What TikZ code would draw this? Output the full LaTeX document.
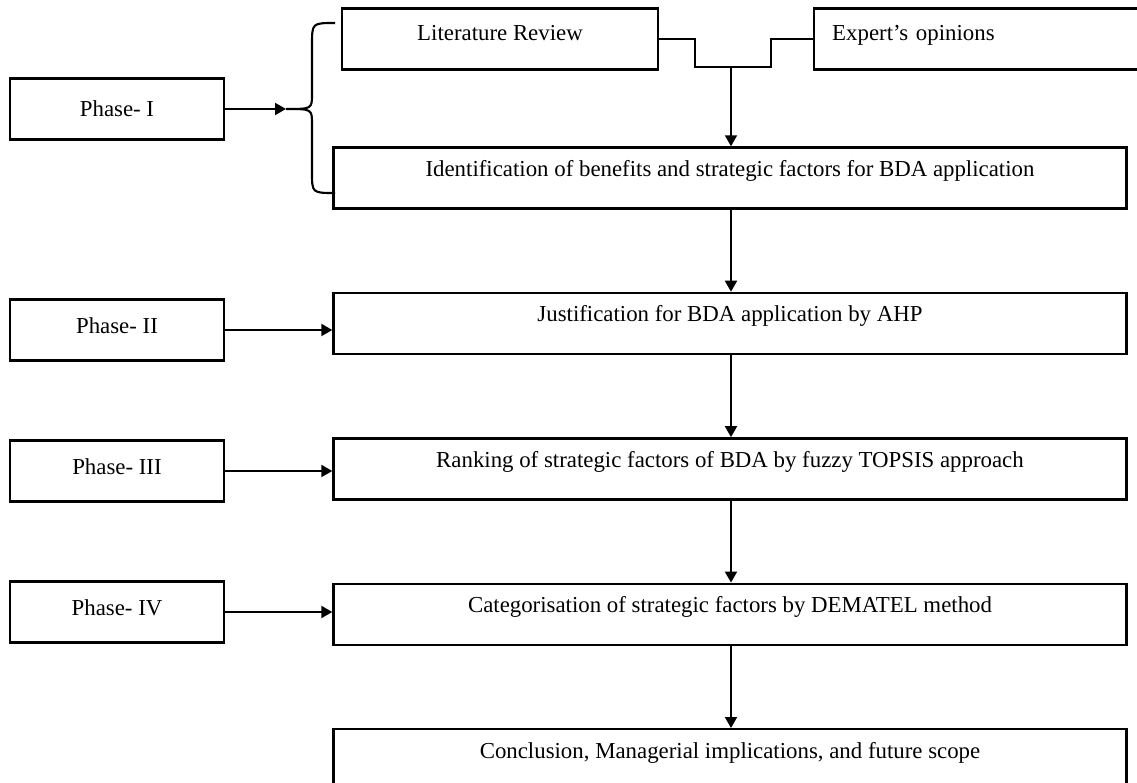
\documentclass[tikz,border=0pt]{standalone}
\usepackage{fontspec}
\setmainfont{Liberation Serif}
\usetikzlibrary{arrows.meta,positioning}
\tikzset{box/.style = {draw, line width=1.4pt, inner ysep=0pt, text height=0.58cm, text depth=0.64cm, font=\fontsize{13}{15}\selectfont}}
\tikzset{phasebox/.style = {box, minimum width=4.28cm, text height=0.68cm, text depth=0.54cm}}
\tikzset{taskbox/.style = {box, minimum width=15.86cm}}
\tikzset{srcbox/.style = {box, text height=0.64cm, text depth=0.58cm}}
\tikzset{link/.style = {line width=1.2pt}}
\tikzset{arr/.style = {line width=1.1pt, -{Triangle[length=0.22cm, width=0.24cm]}}}

\begin{document}
\begin{tikzpicture}[x=0.02cm, y=-0.02cm, node distance=1.64cm]
  \useasboundingbox (0,0) rectangle (1137,783);

  \node [phasebox, text height=0.76cm, text depth=0.46cm] (ph1) at (117,109) {Phase- I};
  \node [phasebox] (ph2) at (117,330) {Phase- II};
  \node [phasebox] (ph3) at (117,471) {Phase- III};
  \node [phasebox] (ph4) at (117,612) {Phase- IV};

  \node [srcbox, minimum width=6.32cm] (lit) at (500,39) {Literature Review};
  \node [srcbox, anchor=west, inner xsep=0.36cm, text width=6.22cm, align=left] (exp) at (813,39) {Expert’s opinions};

  \node [taskbox] (ident) at (730,178) {Identification of benefits and strategic factors for BDA application};
  \node [taskbox, below=of ident] (just) {Justification for BDA application by AHP};
  \node [taskbox, below=of just] (rank) {Ranking of strategic factors of BDA by fuzzy TOPSIS approach};
  \node [taskbox, below=of rank] (cat) {Categorisation of strategic factors by DEMATEL method};
  \node [taskbox, below=of cat] (con) {Conclusion, Managerial implications, and future scope};

  % brace of phase I
  \coordinate (tip) at (286,109);
  \draw [arr] (ph1.east) -- (tip);
  \draw [link] (335,23) .. controls (312,23) .. (312,45) -- (312,94) .. controls (312,109) .. (tip)
               .. controls (312,109) .. (312,124) -- (312,172) .. controls (312,193) .. (335,193);

  % sources joined
  \coordinate (jn) at (731,67);
  \draw [link] (lit.east) -- ++(36,0) |- (jn) -- (771,67) |- (exp.west);
  \draw [arr] (jn) -- (jn |- ident.north);

  \foreach \a/\b in {ident/just, just/rank, rank/cat, cat/con}
    \draw [arr] (jn |- \a.south) -- (jn |- \b.north);

  \draw [arr] (ph2.east) -- (ph2.east -| just.west);
  \draw [arr] (ph3.east) -- (ph3.east -| rank.west);
  \draw [arr] (ph4.east) -- (ph4.east -| cat.west);
\end{tikzpicture}
\end{document}
